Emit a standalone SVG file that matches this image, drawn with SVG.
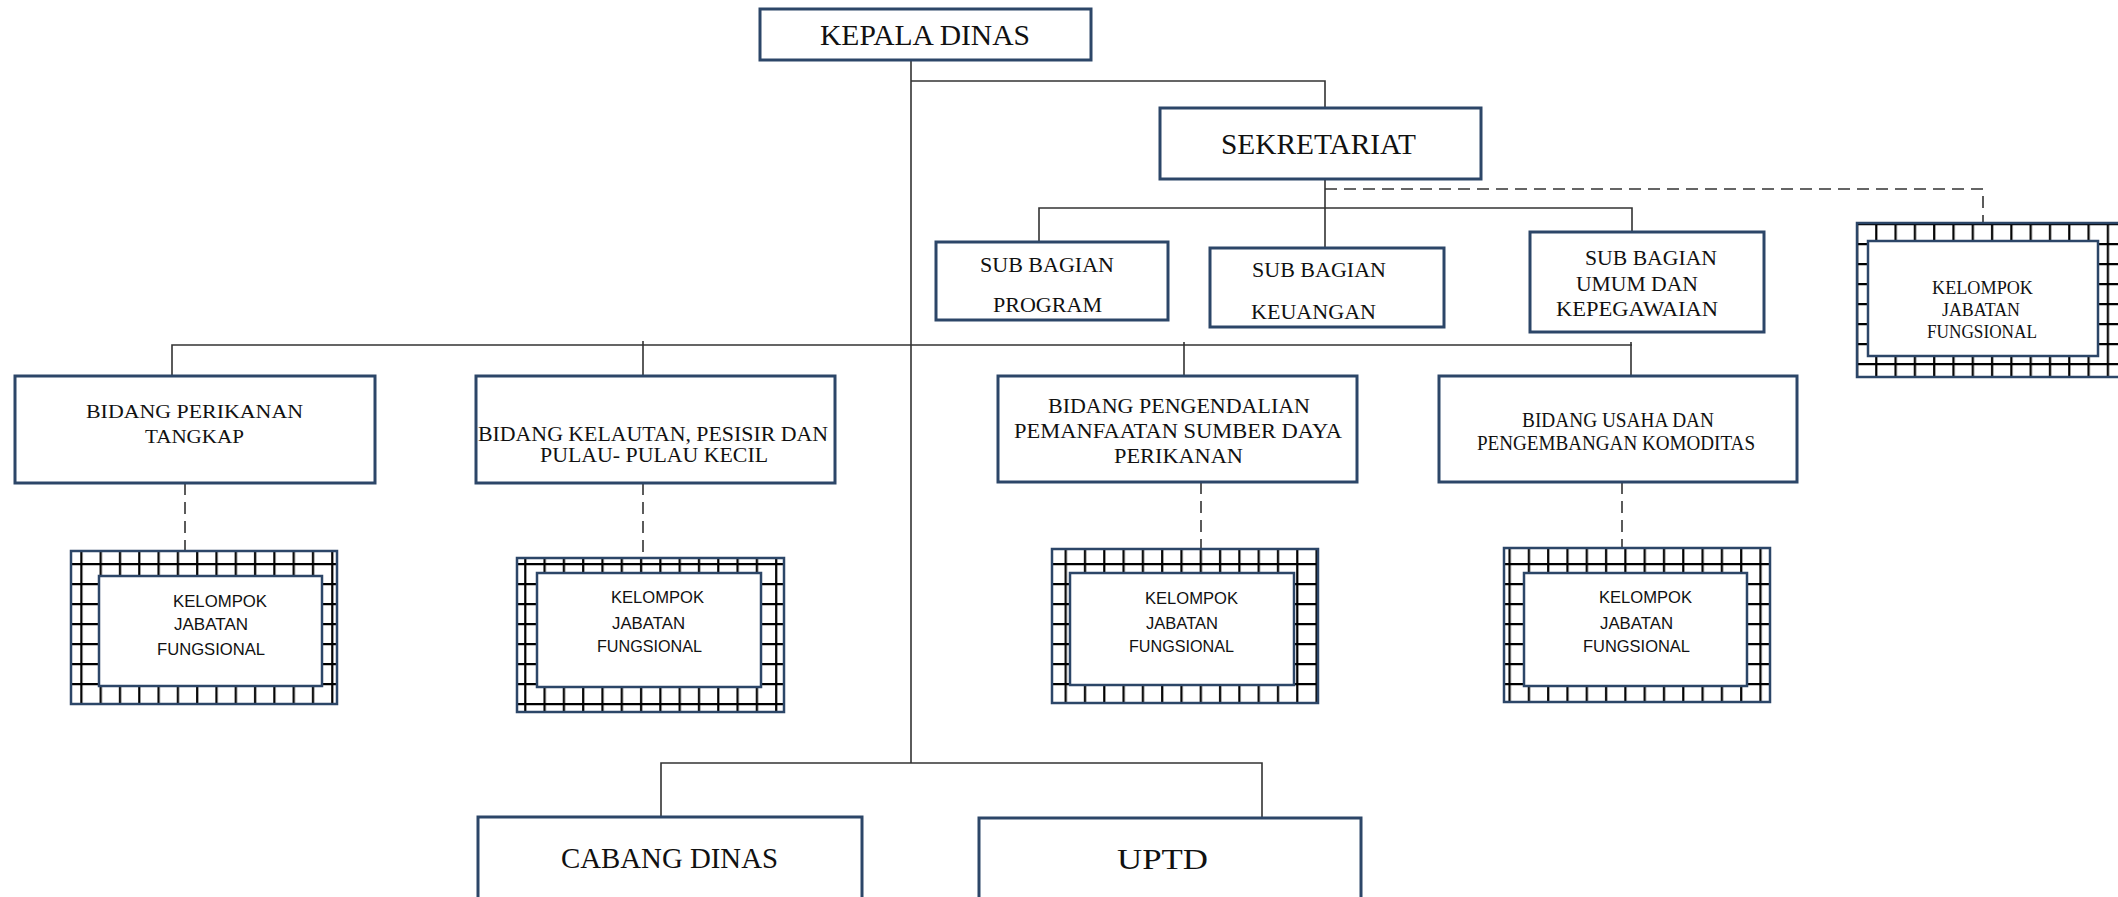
<svg xmlns="http://www.w3.org/2000/svg" width="2118" height="897" viewBox="0 0 2118 897">
<defs>
<style>
.box{fill:#fff;stroke:#2c4668;stroke-width:3}
.kin{fill:#fff;stroke:#2c4668;stroke-width:2.5}
.kout{fill:url(#grid);stroke:#2c4668;stroke-width:2.5}
.ln{fill:none;stroke:#333;stroke-width:1.6}
.dash{fill:none;stroke:#333;stroke-width:1.6;stroke-dasharray:12 7}
.s{font-family:"Liberation Serif","Times New Roman",serif;fill:#111}
.k{font-family:"Liberation Sans",Arial,sans-serif;font-size:17px;fill:#111}
</style>
<pattern id="grid" x="3" y="3" width="19.3" height="20" patternUnits="userSpaceOnUse">
<rect width="19.3" height="20" fill="#fff"/>
<path d="M1.2,0 V20 M0,1.2 H19.3" stroke="#000" stroke-width="2.2"/>
</pattern>
</defs>
<rect width="2118" height="897" fill="#fff"/>

<g id="connectors">
<path class="ln" d="M911,60 V763"/>
<path class="ln" d="M911,81 H1325 V108"/>
<path class="ln" d="M1325,179 V248"/>
<path class="ln" d="M1039,242 V208 H1632 V232"/>
<path class="dash" d="M1325,189 H1983 V223"/>
<path class="ln" d="M172,376 V345 H1632"/>
<path class="ln" d="M643,341 V376"/>
<path class="ln" d="M1184,342 V376"/>
<path class="ln" d="M1631,342 V376"/>
<path class="dash" d="M185,483 V551"/>
<path class="dash" d="M643,483 V558"/>
<path class="dash" d="M1201,482 V549"/>
<path class="dash" d="M1622,482 V548"/>
<path class="ln" d="M661,817 V763 H1262 V818"/>
</g>

<g id="kepala-dinas">
<rect class="box" x="760" y="9" width="331" height="51"/>
<text class="s" x="820" y="45" font-size="30" textLength="210" lengthAdjust="spacingAndGlyphs">KEPALA DINAS</text>
</g>

<g id="sekretariat">
<rect class="box" x="1160" y="108" width="321" height="71"/>
<text class="s" x="1221" y="154" font-size="29" textLength="195" lengthAdjust="spacingAndGlyphs">SEKRETARIAT</text>
</g>

<g id="sub-bagian-program">
<rect class="box" x="936" y="242" width="232" height="78"/>
<text class="s" x="980" y="272" font-size="21" textLength="134" lengthAdjust="spacingAndGlyphs">SUB BAGIAN</text>
<text class="s" x="993" y="312" font-size="21" textLength="109" lengthAdjust="spacingAndGlyphs">PROGRAM</text>
</g>

<g id="sub-bagian-keuangan">
<rect class="box" x="1210" y="248" width="234" height="79"/>
<text class="s" x="1252" y="277" font-size="21" textLength="134" lengthAdjust="spacingAndGlyphs">SUB BAGIAN</text>
<text class="s" x="1251" y="319" font-size="21" textLength="125" lengthAdjust="spacingAndGlyphs">KEUANGAN</text>
</g>

<g id="sub-bagian-umum">
<rect class="box" x="1530" y="232" width="234" height="100"/>
<text class="s" x="1585" y="265" font-size="21" textLength="132" lengthAdjust="spacingAndGlyphs">SUB BAGIAN</text>
<text class="s" x="1576" y="291" font-size="21" textLength="122" lengthAdjust="spacingAndGlyphs">UMUM DAN</text>
<text class="s" x="1556" y="316" font-size="21" textLength="162" lengthAdjust="spacingAndGlyphs">KEPEGAWAIAN</text>
</g>

<g id="kelompok-sekretariat">
<rect class="kout" x="1857" y="223" width="270" height="154"/>
<rect class="kin" x="1868" y="241" width="230" height="115"/>
<text class="s" x="1932" y="294" font-size="18.5" textLength="101" lengthAdjust="spacingAndGlyphs">KELOMPOK</text>
<text class="s" x="1942" y="316" font-size="18.5" textLength="78" lengthAdjust="spacingAndGlyphs">JABATAN</text>
<text class="s" x="1927" y="338" font-size="18.5" textLength="110" lengthAdjust="spacingAndGlyphs">FUNGSIONAL</text>
</g>

<g id="bidang-perikanan-tangkap">
<rect class="box" x="15" y="376" width="360" height="107"/>
<text class="s" x="86" y="418" font-size="19.5" textLength="217" lengthAdjust="spacingAndGlyphs">BIDANG PERIKANAN</text>
<text class="s" x="145" y="443" font-size="19.5" textLength="99" lengthAdjust="spacingAndGlyphs">TANGKAP</text>
</g>

<g id="bidang-kelautan">
<rect class="box" x="476" y="376" width="359" height="107"/>
<text class="s" x="478" y="441" font-size="20.5" textLength="350" lengthAdjust="spacingAndGlyphs">BIDANG KELAUTAN, PESISIR DAN</text>
<text class="s" x="540" y="462" font-size="20.5" textLength="228" lengthAdjust="spacingAndGlyphs">PULAU- PULAU KECIL</text>
</g>

<g id="bidang-pengendalian">
<rect class="box" x="998" y="376" width="359" height="106"/>
<text class="s" x="1048" y="413" font-size="21" textLength="262" lengthAdjust="spacingAndGlyphs">BIDANG PENGENDALIAN</text>
<text class="s" x="1014" y="438" font-size="21" textLength="328" lengthAdjust="spacingAndGlyphs">PEMANFAATAN SUMBER DAYA</text>
<text class="s" x="1114" y="463" font-size="21" textLength="129" lengthAdjust="spacingAndGlyphs">PERIKANAN</text>
</g>

<g id="bidang-usaha">
<rect class="box" x="1439" y="376" width="358" height="106"/>
<text class="s" x="1522" y="427" font-size="20" textLength="192" lengthAdjust="spacingAndGlyphs">BIDANG USAHA DAN</text>
<text class="s" x="1477" y="450" font-size="20" textLength="278" lengthAdjust="spacingAndGlyphs">PENGEMBANGAN KOMODITAS</text>
</g>

<g id="kelompok-1">
<rect class="kout" x="71" y="551" width="266" height="153"/>
<rect class="kin" x="99" y="576" width="223" height="110"/>
<text class="k" x="173" y="607" textLength="94" lengthAdjust="spacingAndGlyphs">KELOMPOK</text>
<text class="k" x="174" y="630" textLength="74" lengthAdjust="spacingAndGlyphs">JABATAN</text>
<text class="k" x="157" y="655" textLength="108" lengthAdjust="spacingAndGlyphs">FUNGSIONAL</text>
</g>

<g id="kelompok-2">
<rect class="kout" x="517" y="558" width="267" height="154"/>
<rect class="kin" x="537" y="573" width="224" height="114"/>
<text class="k" x="611" y="603" textLength="93" lengthAdjust="spacingAndGlyphs">KELOMPOK</text>
<text class="k" x="612" y="629" textLength="73" lengthAdjust="spacingAndGlyphs">JABATAN</text>
<text class="k" x="597" y="652" textLength="105" lengthAdjust="spacingAndGlyphs">FUNGSIONAL</text>
</g>

<g id="kelompok-3">
<rect class="kout" x="1052" y="549" width="266" height="154"/>
<rect class="kin" x="1070" y="573" width="224" height="112"/>
<text class="k" x="1145" y="604" textLength="93" lengthAdjust="spacingAndGlyphs">KELOMPOK</text>
<text class="k" x="1146" y="629" textLength="72" lengthAdjust="spacingAndGlyphs">JABATAN</text>
<text class="k" x="1129" y="652" textLength="105" lengthAdjust="spacingAndGlyphs">FUNGSIONAL</text>
</g>

<g id="kelompok-4">
<rect class="kout" x="1504" y="548" width="266" height="154"/>
<rect class="kin" x="1524" y="573" width="223" height="113"/>
<text class="k" x="1599" y="603" textLength="93" lengthAdjust="spacingAndGlyphs">KELOMPOK</text>
<text class="k" x="1600" y="629" textLength="73" lengthAdjust="spacingAndGlyphs">JABATAN</text>
<text class="k" x="1583" y="652" textLength="107" lengthAdjust="spacingAndGlyphs">FUNGSIONAL</text>
</g>

<g id="cabang-dinas">
<rect class="box" x="478" y="817" width="384" height="90"/>
<text class="s" x="561" y="868" font-size="30" textLength="217" lengthAdjust="spacingAndGlyphs">CABANG DINAS</text>
</g>

<g id="uptd">
<rect class="box" x="979" y="818" width="382" height="90"/>
<text class="s" x="1117" y="869" font-size="30" textLength="91" lengthAdjust="spacingAndGlyphs">UPTD</text>
</g>
</svg>
